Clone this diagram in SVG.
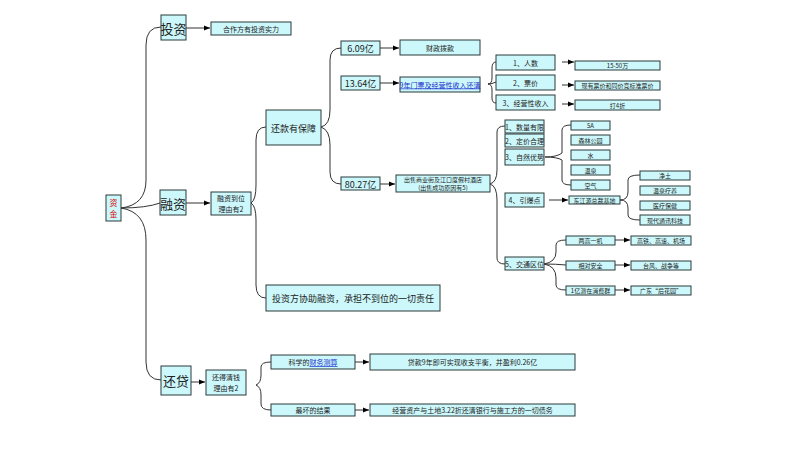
<svg xmlns="http://www.w3.org/2000/svg" width="800" height="450" viewBox="0 0 800 450">
<defs>
<marker id="ar" viewBox="0 0 10 10" refX="10" refY="5" markerWidth="6" markerHeight="6" orient="auto"><path d="M0,1 L10,5 L0,9 z" fill="#000"/></marker>
<style>
rect{fill:#ccf8fb;stroke:#2a3a3a;stroke-width:1}
text{font-family:"Noto Sans CJK SC","Liberation Sans",sans-serif;font-size:7px;fill:#222;text-anchor:middle;dominant-baseline:central}
.b{font-size:13px}
.m{font-size:9px}
.c path{fill:none;stroke:#333;stroke-width:1}
.a{marker-end:url(#ar)}
.lk{fill:#1a2dcc;text-decoration:underline}
</style>
</defs>
<rect x="0" y="0" width="800" height="450" style="fill:#fff;stroke:none"/>
<g class="c">
<path d="M121,208 Q146,205 146,180 V45 Q146,27 161,27"/>
<path d="M121,208 Q146,208 160,203"/>
<path d="M121,208 Q146,212 146,240 V362 Q146,380 161,380"/>
<path class="a" d="M186,28 H210"/>
<path class="a" d="M186,203 H210"/>
<path d="M251,203 Q256,200 256,185 V140 Q256,127 266,127"/>
<path d="M251,203 Q256,206 256,220 V285 Q256,298 266,298"/>
<path d="M321,127 Q330,125 330,110 V60 Q330,48 341,48"/>
<path d="M321,127 Q330,130 330,145 V172 Q330,184 341,184"/>
<path class="a" d="M380,48 H399"/>
<path class="a" d="M380,83 H399"/>
<path class="a" d="M380,184 H395"/>
<path d="M488,84 Q492,84 492,78 V68 Q492,62 496,62"/>
<path d="M488,84 Q492,84 496,82"/>
<path d="M488,84 Q492,84 492,90 V98 Q492,103 496,103"/>
<path class="a" d="M562,62 H574"/>
<path class="a" d="M562,85 H574"/>
<path class="a" d="M562,104 H574"/>
<path d="M490,184 Q497,182 497,170 V132 Q497,126 505,126"/>
<path d="M490,184 Q497,186 497,200 V258 Q497,264 505,264"/>
<path class="a" d="M549,200 H568"/>
<path d="M545,157 Q557,157 562,153 V130 Q562,125 571,125"/>
<path d="M545,157 Q557,157 562,160 V180 Q562,185 571,185"/>
<path d="M620,200 Q628,200 628,192 V180 Q628,175 640,175"/>
<path d="M620,200 Q628,200 628,208 V215 Q628,220 640,220"/>
<path d="M544,264 Q556,262 556,252 V245 Q556,240 566,240"/>
<path d="M544,264 Q556,264 566,265"/>
<path d="M544,264 Q556,266 556,278 V285 Q556,290 566,290"/>
<path class="a" d="M615,240 H630"/>
<path class="a" d="M615,265 H630"/>
<path class="a" d="M615,290 H630"/>
<path class="a" d="M191,382 H205"/>
<path d="M256,385 Q261,383 261,375 V367 Q261,362 271,362"/>
<path d="M256,385 Q261,387 261,395 V404 Q261,410 271,410"/>
<path class="a" d="M355,362 H369"/>
<path class="a" d="M355,410 H369"/>
</g>
<g id="root"><rect x="106" y="195" width="15" height="26"/><text x="113.5" y="202" style="fill:#d00;font-size:8px">资</text><text x="113.5" y="213" style="fill:#d00;font-size:8px">金</text></g>
<g id="touzi"><rect x="161" y="15" width="25" height="25"/><text class="b" x="173.5" y="28">投资</text></g>
<g id="shili"><rect x="211" y="22" width="80" height="13"/><text x="251" y="28.5">合作方有投资实力</text></g>
<g id="rongzi"><rect x="160" y="190" width="26" height="25"/><text class="b" x="173" y="203">融资</text></g>
<g id="liyou1"><rect x="211" y="192" width="40" height="23"/><text x="231" y="198">融资到位</text><text x="231" y="209">理由有2</text></g>
<g id="baozhang"><rect x="266" y="110" width="55" height="35"/><text class="m" x="293.5" y="128">还款有保障</text></g>
<g id="n609"><rect x="341" y="41" width="39" height="14"/><text class="m" x="360.5" y="48">6.09亿</text></g>
<g id="n1364"><rect x="341" y="76" width="39" height="14"/><text class="m" x="360.5" y="83">13.64亿</text></g>
<g id="n8027"><rect x="341" y="177" width="39" height="13"/><text class="m" x="360.5" y="184">80.27亿</text></g>
<g id="caizheng"><rect x="400" y="40" width="80" height="15"/><text x="440" y="47.5">财政拨款</text></g>
<g id="menpiao"><rect x="400" y="77" width="80" height="15"/><text class="lk" x="440" y="84.5">9年门票及经营性收入还清</text></g>
<g id="renshu"><rect x="496" y="55" width="59" height="15"/><text x="525.5" y="62.5">1、人数</text></g>
<g id="piaojia"><rect x="496" y="75" width="59" height="15"/><text x="525.5" y="82.5">2、票价</text></g>
<g id="jingying"><rect x="496" y="95" width="59" height="15"/><text x="525.5" y="102.5">3、经营性收入</text></g>
<g id="w1550"><rect x="575" y="61" width="85" height="9"/><text x="617.5" y="65.5" style="font-size:6px">15-50万</text></g>
<g id="xianyou"><rect x="575" y="81" width="85" height="9"/><text x="617.5" y="85.5" style="font-size:6px">现有票价和同价竞标准票价</text></g>
<g id="dazhe"><rect x="575" y="100" width="85" height="10"/><text x="617.5" y="105" style="font-size:6px">打4折</text></g>
<g id="chushou"><rect x="396" y="175" width="94" height="17"/><text x="443" y="179.5" style="font-size:6px">出售商业街及江口度假村酒店</text><text x="443" y="187" style="font-size:6px">(出售成功原因有5)</text></g>
<g id="shuliang"><rect x="505" y="120" width="39" height="13"/><text x="524.5" y="126.5">1、数量有限</text></g>
<g id="dingjia"><rect x="505" y="134" width="39" height="13"/><text x="524.5" y="140.5">2、定价合理</text></g>
<g id="ziran"><rect x="505" y="149" width="39" height="16"/><text x="524.5" y="157">3、自然优势</text></g>
<g id="a5"><rect x="571" y="121" width="39" height="9"/><text x="590.5" y="125.5" style="font-size:6px">5A</text></g>
<g id="senlin"><rect x="571" y="135" width="39" height="10"/><text x="590.5" y="140" style="font-size:6px">森林公园</text></g>
<g id="shui"><rect x="571" y="150" width="39" height="10"/><text x="590.5" y="155" style="font-size:6px">水</text></g>
<g id="wenquan"><rect x="571" y="165" width="39" height="10"/><text x="590.5" y="170" style="font-size:6px">温泉</text></g>
<g id="kongqi"><rect x="571" y="180" width="39" height="10"/><text x="590.5" y="185" style="font-size:6px">空气</text></g>
<g id="yinbao"><rect x="505" y="193" width="39" height="14"/><text x="524.5" y="200">4、引爆点</text></g>
<g id="jidi"><rect x="569" y="196" width="51" height="8"/><text x="594.5" y="200" style="font-size:6px">东江源总裁基地</text></g>
<g id="jingtu"><rect x="640" y="171" width="50" height="9"/><text x="665" y="175.5" style="font-size:6px">净土</text></g>
<g id="liaoyang"><rect x="640" y="186" width="50" height="9"/><text x="665" y="190.5" style="font-size:6px">温泉疗养</text></g>
<g id="yiliao"><rect x="640" y="201" width="50" height="9"/><text x="665" y="205.5" style="font-size:6px">医疗保健</text></g>
<g id="tongxun"><rect x="640" y="215" width="50" height="10"/><text x="665" y="220" style="font-size:6px">现代通讯科技</text></g>
<g id="jiaotong"><rect x="505" y="257" width="39" height="13"/><text x="524.5" y="263.5">5、交通区位</text></g>
<g id="lianggao"><rect x="566" y="236" width="49" height="9"/><text x="590.5" y="240.5" style="font-size:6px">两高一机</text></g>
<g id="gaotie"><rect x="631" y="236" width="60" height="9"/><text x="661" y="240.5" style="font-size:6px">高铁、高速、机场</text></g>
<g id="anquan"><rect x="566" y="261" width="49" height="9"/><text x="590.5" y="265.5" style="font-size:6px">相对安全</text></g>
<g id="taifeng"><rect x="631" y="261" width="60" height="9"/><text x="661" y="265.5" style="font-size:6px">台风、战争等</text></g>
<g id="xiaofei"><rect x="566" y="286" width="49" height="9"/><text x="590.5" y="290.5" style="font-size:6px">1亿潜在消费群</text></g>
<g id="houhuayuan"><rect x="631" y="286" width="60" height="9"/><text x="661" y="290.5" style="font-size:6px">广东“后花园”</text></g>
<g id="xiezhu"><rect x="266" y="285" width="174" height="26"/><text class="m" x="353" y="298">投资方协助融资，承担不到位的一切责任</text></g>
<g id="huandai"><rect x="161" y="366" width="30" height="29"/><text class="b" x="176" y="380.5">还贷</text></g>
<g id="liyou2"><rect x="206" y="370" width="40" height="25"/><text x="226" y="377">还得清钱</text><text x="226" y="388">理由有2</text></g>
<g id="cesuan"><rect x="271" y="355" width="84" height="14"/><text x="313" y="362">科学的<tspan class="lk">财务测算</tspan></text></g>
<g id="daikuan"><rect x="370" y="354" width="205" height="16"/><text x="472.5" y="362">贷款9年即可实现收支平衡，并盈利0.26亿</text></g>
<g id="zuihuai"><rect x="271" y="404" width="84" height="12"/><text x="313" y="410">最坏的结果</text></g>
<g id="changhuan"><rect x="370" y="404" width="205" height="12"/><text x="472.5" y="410">经营资产与土地3.22折还清银行与施工方的一切债务</text></g>
</svg>
